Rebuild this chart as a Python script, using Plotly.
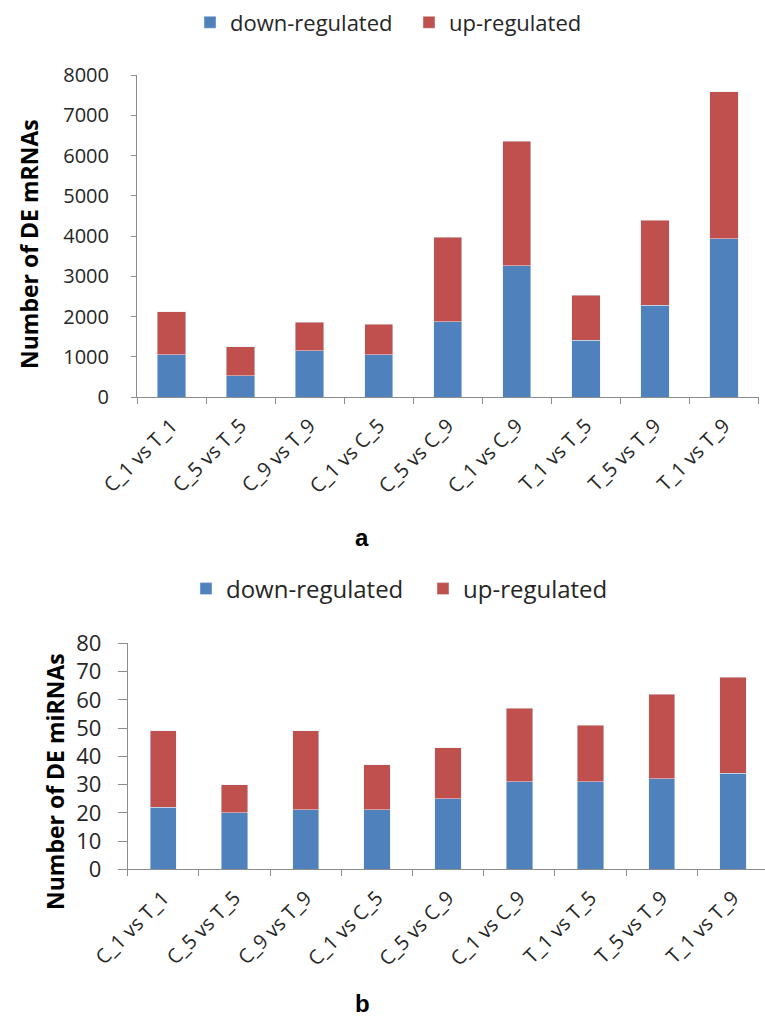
import plotly.graph_objects as go

# Comparison groups shared by both panels
comparisons = ["C_1 vs T_1", "C_5 vs T_5", "C_9 vs T_9", "C_1 vs C_5", "C_5 vs C_9",
               "C_1 vs C_9", "T_1 vs T_5", "T_5 vs T_9", "T_1 vs T_9"]

# Panel a: differentially expressed mRNAs
mrna_down = [1050, 530, 1150, 1050, 1870, 3260, 1410, 2280, 3930]
mrna_up = [1070, 720, 710, 760, 2100, 3090, 1120, 2110, 3650]

# Panel b: differentially expressed miRNAs
mirna_down = [22, 20, 21, 21, 25, 31, 31, 32, 34]
mirna_up = [27, 10, 28, 16, 18, 26, 20, 30, 34]

y_ticks_a = [0, 1000, 2000, 3000, 4000, 5000, 6000, 7000, 8000]
y_ticks_b = [0, 10, 20, 30, 40, 50, 60, 70, 80]

BLUE = "#4F81BD"
RED = "#C0504D"
AXIS = "#8C8C8C"
TXT = "#262626"
FONT = "Open Sans"
W, H = 765, 1023

fig = go.Figure()

fig.add_trace(go.Bar(x=comparisons, y=mrna_down, name="down-regulated", marker_color=BLUE,
                     width=0.41, xaxis="x", yaxis="y", legend="legend"))
fig.add_trace(go.Bar(x=comparisons, y=mrna_up, name="up-regulated", marker_color=RED,
                     width=0.41, xaxis="x", yaxis="y", legend="legend"))
fig.add_trace(go.Bar(x=comparisons, y=mirna_down, name="down-regulated", marker_color=BLUE,
                     width=0.37, xaxis="x2", yaxis="y2", legend="legend2"))
fig.add_trace(go.Bar(x=comparisons, y=mirna_up, name="up-regulated", marker_color=RED,
                     width=0.37, xaxis="x2", yaxis="y2", legend="legend2"))

xcommon = dict(type="category", showline=True, linecolor=AXIS, linewidth=1, automargin=False,
               ticks="outside", tickson="boundaries", tickcolor=AXIS, ticklen=6,
               tickangle=-45, ticklabelstandoff=8, showgrid=False, zeroline=False,
               tickfont=dict(family=FONT, size=20, color=TXT))
ycommon = dict(showline=True, linecolor=AXIS, linewidth=1, ticks="outside", automargin=False,
               tickcolor=AXIS, showgrid=False, zeroline=False)

fig.update_layout(
    width=W, height=H,
    margin=dict(l=0, r=0, t=0, b=0, autoexpand=False),
    paper_bgcolor="white", plot_bgcolor="white",
    barmode="stack",
    showlegend=True,
    xaxis=dict(xcommon, domain=[137 / W, 758.5 / W], range=[-0.5, 8.5], anchor="y"),
    yaxis=dict(ycommon, domain=[1 - 397 / H, 1 - 75 / H], range=[0, 8000],
               tickvals=y_ticks_a, ticklen=5, ticklabelstandoff=18, anchor="x",
               tickfont=dict(family=FONT, size=20, color=TXT)),
    xaxis2=dict(xcommon, domain=[127.7 / W, 1.0], range=[-0.5, 8.45], anchor="y2"),
    yaxis2=dict(ycommon, domain=[1 - 869.3 / H, 1 - 643.3 / H], range=[0, 80],
                tickvals=y_ticks_b, ticklen=9, ticklabelstandoff=12, anchor="x2",
                tickfont=dict(family=FONT, size=22, color=TXT)),
    legend=dict(orientation="h", x=190 / W, xanchor="left", y=1 - 22.5 / H, yanchor="middle",
                entrywidth=174, entrywidthmode="pixels", itemwidth=30,
                font=dict(family=FONT, size=22, color=TXT), traceorder="normal"),
    legend2=dict(orientation="h", x=186 / W, xanchor="left", y=1 - 589 / H, yanchor="middle",
                 entrywidth=192, entrywidthmode="pixels", itemwidth=30,
                 font=dict(family=FONT, size=24, color=TXT), traceorder="normal"),
    annotations=[
        dict(text="<b>Number of DE mRNAs</b>", x=29 / W, y=1 - 244 / H, xref="paper", yref="paper",
             xanchor="center", yanchor="middle", textangle=-90, showarrow=False,
             font=dict(family=FONT, size=23, color="black")),
        dict(text="<b>Number of DE miRNAs</b>", x=55 / W, y=1 - 782 / H, xref="paper", yref="paper",
             xanchor="center", yanchor="middle", textangle=-90, showarrow=False,
             font=dict(family=FONT, size=23, color="black")),
        dict(text="<b>a</b>", x=362 / W, y=1 - 537 / H, xref="paper", yref="paper",
             xanchor="center", yanchor="middle", showarrow=False,
             font=dict(family="Liberation Sans", size=24, color="black")),
        dict(text="<b>b</b>", x=362 / W, y=1 - 1003 / H, xref="paper", yref="paper",
             xanchor="center", yanchor="middle", showarrow=False,
             font=dict(family="Liberation Sans", size=24, color="black")),
    ],
)

fig.write_html("out.html")
